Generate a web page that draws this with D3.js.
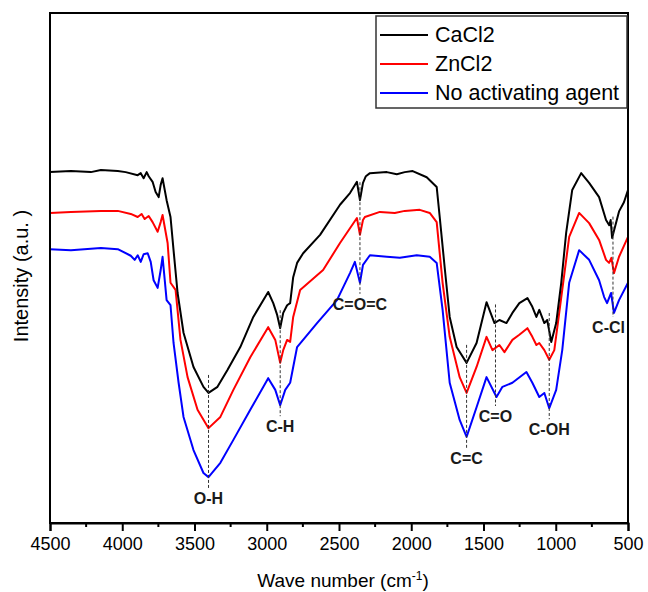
<!DOCTYPE html>
<html>
<head>
<meta charset="utf-8">
<script src="https://cdn.jsdelivr.net/npm/d3@7"></script>
<style>
  body { margin: 0; background: #fff; }
  text { font-family: Arial, "Liberation Sans", sans-serif; }
</style>
</head>
<body>
<div id="chart"></div>
<script>
// FTIR spectra, intensity in arbitrary units

var series_names = ['CaCl2', 'ZnCl2', 'No activating agent'];
var series_colors = ['#000000', '#ff0000', '#0000ff'];

var cacl2_wn = [4500, 4355, 4217, 4148, 4031, 3976, 3893, 3872, 3852, 3831, 3817, 3790, 3769, 3748, 3734, 3721,
    3693, 3666, 3645, 3617, 3576, 3507, 3438, 3403, 3341, 3272, 3183, 3093, 2990, 2955, 2928, 2907, 2886, 2859,
    2838, 2817, 2790, 2748, 2631, 2493, 2424, 2376, 2355, 2334, 2314, 2286, 2169, 2100, 2045, 1990, 1893, 1824,
    1803, 1769, 1734, 1686, 1617, 1548, 1479, 1424, 1390, 1341, 1300, 1252, 1196, 1162, 1134, 1114, 1079, 1059,
    1031, 997, 962, 928, 886, 824, 769, 700, 652, 630, 620, 610, 597, 562, 528, 500];
var cacl2_val = [68.8, 69.0, 68.8, 69.2, 69.0, 68.8, 68.2, 68.6, 67.6, 68.8, 68.0, 66.9, 64.9, 63.9, 66.3, 67.6,
    63.3, 60.0, 53.5, 45.1, 37.3, 30.6, 26.7, 25.5, 26.7, 30.0, 34.5, 40.4, 45.3, 43.1, 40.8, 38.2, 41.2, 42.7,
    43.1, 48.2, 51.0, 52.9, 56.5, 62.4, 64.7, 66.9, 63.3, 66.7, 68.0, 68.6, 68.8, 68.4, 68.8, 69.0, 67.8, 65.9,
    60.0, 50.2, 40.4, 34.5, 31.4, 35.3, 43.3, 39.2, 39.8, 39.2, 41.2, 43.1, 44.1, 42.4, 40.4, 41.8, 39.2, 39.8,
    35.5, 39.2, 47.1, 56.9, 65.3, 68.6, 66.7, 63.9, 59.4, 58.4, 59.4, 55.9, 57.3, 61.1, 62.9, 65.3];

var zncl2_wn = [4500, 4355, 4148, 4031, 3941, 3893, 3866, 3845, 3817, 3790, 3755, 3734, 3721, 3686, 3666, 3631,
    3597, 3548, 3479, 3403, 3321, 3231, 3114, 2990, 2941, 2907, 2886, 2859, 2838, 2817, 2769, 2610, 2493, 2376,
    2355, 2334, 2321, 2217, 2114, 2045, 1941, 1872, 1824, 1783, 1734, 1665, 1617, 1548, 1479, 1438, 1390, 1355,
    1300, 1252, 1196, 1162, 1134, 1114, 1079, 1045, 1010, 955, 907, 838, 769, 700, 652, 631, 615, 597, 562, 500];
var zncl2_val = [60.8, 61.0, 61.2, 61.2, 60.6, 60.0, 60.6, 59.6, 60.2, 59.0, 57.1, 59.0, 60.4, 54.9, 47.1, 45.7,
    35.9, 28.6, 22.2, 18.6, 20.8, 26.1, 32.5, 38.4, 35.9, 31.4, 33.9, 35.9, 35.5, 40.4, 45.7, 49.6, 54.9, 59.8,
    56.5, 59.4, 60.0, 61.0, 60.8, 61.2, 61.4, 60.8, 59.0, 47.1, 36.5, 28.6, 25.5, 30.6, 36.5, 33.9, 34.9, 33.5,
    35.9, 36.9, 38.2, 36.5, 34.9, 35.3, 33.9, 32.0, 33.9, 45.7, 56.1, 60.8, 58.8, 55.5, 51.6, 51.0, 52.0, 49.0,
    52.2, 56.1];

var none_wn = [4500, 4355, 4148, 4031, 3941, 3914, 3893, 3872, 3852, 3824, 3803, 3783, 3755, 3734, 3721, 3693,
    3666, 3645, 3610, 3576, 3507, 3438, 3403, 3321, 3231, 3114, 2990, 2941, 2907, 2872, 2838, 2790, 2652, 2514,
    2424, 2390, 2355, 2334, 2286, 2169, 2079, 1962, 1872, 1824, 1783, 1734, 1665, 1617, 1548, 1479, 1410, 1369,
    1300, 1203, 1162, 1114, 1079, 1045, 997, 955, 907, 838, 769, 700, 665, 645, 617, 597, 562, 500];
var none_val = [53.7, 53.5, 53.9, 53.7, 52.4, 51.6, 52.5, 51.2, 52.7, 52.9, 51.2, 47.6, 46.1, 49.6, 52.2, 43.7,
    42.7, 35.3, 27.5, 20.8, 14.3, 9.8, 9.0, 11.8, 16.3, 22.2, 28.4, 26.1, 23.1, 26.1, 27.5, 34.5, 39.2, 43.7,
    49.0, 51.2, 47.1, 50.6, 52.5, 52.2, 52.0, 52.5, 52.2, 51.0, 41.8, 27.5, 20.2, 16.9, 22.7, 28.6, 24.7, 26.7,
    27.5, 29.6, 27.5, 24.7, 25.5, 22.5, 26.1, 33.9, 47.1, 53.5, 51.6, 47.6, 44.3, 43.1, 45.1, 41.2, 43.7, 47.1];

var band_labels = ['O-H', 'C-H', 'C=O=C', 'C=C', 'C=O', 'C-OH', 'C-Cl'];
var band_wn = [3403, 2907, 2355, 1617, 1417, 1045, 604];

var x_ticks = [4500, 4000, 3500, 3000, 2500, 2000, 1500, 1000, 500];
var x_minor_ticks = [4250, 3750, 3250, 2750, 2250, 1750, 1250, 750];

var svg_size = {'width': 648, 'height': 592};
var plot = {'left': 50, 'right': 628, 'top': 13, 'bottom': 523};

var svg = d3.select('#chart').append('svg')
    .attr('width', svg_size.width)
    .attr('height', svg_size.height);

var x_scale = d3.scaleLinear().domain([4500, 500]).range([plot.left, plot.right]);
var y_scale = d3.scaleLinear().domain([0, 100]).range([plot.bottom, plot.top]);

var all_series = [
    d3.zip(cacl2_wn, cacl2_val),
    d3.zip(zncl2_wn, zncl2_val),
    d3.zip(none_wn, none_val)
];

var line = d3.line()
    .x(function(d) { return x_scale(d[0]); })
    .y(function(d) { return y_scale(d[1]); });

// spectra, blue first so black sits on top
svg.append('g').selectAll('path')
    .data(all_series.map(function(s, i) { return {pts: s, color: series_colors[i]}; }).reverse())
    .enter().append('path')
    .attr('d', function(d) { return line(d.pts); })
    .attr('fill', 'none')
    .attr('stroke', function(d) { return d.color; })
    .attr('stroke-width', 2)
    .attr('stroke-linejoin', 'round');

// value of a series at a wavenumber (linear between read points)
function value_at(s, wn) {
    for (var i = 0; i < s.length - 1; i++) {
        if (wn <= s[i][0] && wn >= s[i + 1][0]) {
            var t = (s[i][0] - wn) / (s[i][0] - s[i + 1][0]);
            return s[i][1] + t * (s[i + 1][1] - s[i][1]);
        }
    }
    return s[s.length - 1][1];
}

var bands = svg.append('g').selectAll('g')
    .data(d3.zip(band_labels, band_wn))
    .enter().append('g');

bands.append('line')
    .attr('x1', function(d) { return x_scale(d[1]); })
    .attr('x2', function(d) { return x_scale(d[1]); })
    .attr('y1', function(d) { return y_scale(value_at(all_series[0], d[1])) - 18; })
    .attr('y2', function(d) { return y_scale(value_at(all_series[2], d[1])) + 11; })
    .attr('stroke', '#333')
    .attr('stroke-width', 1)
    .attr('stroke-dasharray', '3,2');

bands.append('text')
    .attr('x', function(d) { return x_scale(d[1]); })
    .attr('y', function(d) { return y_scale(value_at(all_series[2], d[1])) + 27; })
    .attr('text-anchor', 'middle')
    .style('font-size', '16px')
    .style('font-weight', 'bold')
    .style('fill', '#1a1a1a')
    .text(function(d) { return d[0]; })
    .each(function() {
        // keep labels inside the frame
        var b = this.getBBox();
        var over = b.x + b.width - (plot.right - 3);
        if (over > 0) d3.select(this).attr('x', +d3.select(this).attr('x') - over);
    });

// frame
svg.append('rect')
    .attr('x', plot.left).attr('y', plot.top)
    .attr('width', plot.right - plot.left)
    .attr('height', plot.bottom - plot.top)
    .attr('fill', 'none')
    .attr('stroke', '#000')
    .attr('stroke-width', 2);

var x_axis = d3.axisBottom(x_scale)
    .tickValues(x_ticks)
    .tickSize(8)
    .tickPadding(6)
    .tickFormat(d3.format('d'));

var axis_group = svg.append('g')
    .attr('transform', 'translate(0,' + plot.bottom + ')')
    .call(x_axis);
axis_group.select('.domain').attr('stroke-width', 2);
axis_group.selectAll('.tick line').attr('stroke-width', 2);
axis_group.selectAll('.tick text')
    .style('font-size', '18px')
    .style('font-family', 'Arial, "Liberation Sans", sans-serif')
    .attr('fill', '#000');

svg.append('g').selectAll('line')
    .data(x_minor_ticks)
    .enter().append('line')
    .attr('x1', function(d) { return x_scale(d); })
    .attr('x2', function(d) { return x_scale(d); })
    .attr('y1', plot.bottom)
    .attr('y2', plot.bottom + 4)
    .attr('stroke', '#000')
    .attr('stroke-width', 2);

// axis titles
var x_title = svg.append('text')
    .attr('x', (plot.left + plot.right) / 2 + 4)
    .attr('y', 587)
    .attr('text-anchor', 'middle')
    .style('font-size', '19px');
x_title.append('tspan').text('Wave number (cm');
x_title.append('tspan').attr('dy', -7).style('font-size', '12px').text('-1');
x_title.append('tspan').attr('dy', 7).text(')');

svg.append('text')
    .attr('transform', 'translate(28,' + 276 + ') rotate(-90)')
    .attr('text-anchor', 'middle')
    .style('font-size', '20px')
    .text('Intensity (a.u. )');

// legend
var legend = svg.append('g').attr('transform', 'translate(376,16)');
legend.append('rect')
    .attr('width', 251).attr('height', 92)
    .attr('fill', '#fff')
    .attr('stroke', '#333')
    .attr('stroke-width', 1.5);

var legend_items = legend.selectAll('.legend-item')
    .data(series_names)
    .enter().append('g')
    .classed('legend-item', true)
    .attr('transform', function(d, i) { return 'translate(0,' + (19 + 29 * i) + ')'; });

legend_items.append('line')
    .attr('x1', 4).attr('x2', 52)
    .attr('stroke', function(d, i) { return series_colors[i]; })
    .attr('stroke-width', 2);

legend_items.append('text')
    .attr('x', 59)
    .attr('dominant-baseline', 'central')
    .style('font-size', '21.5px')
    .text(function(d) { return d; });
</script>
</body>
</html>
